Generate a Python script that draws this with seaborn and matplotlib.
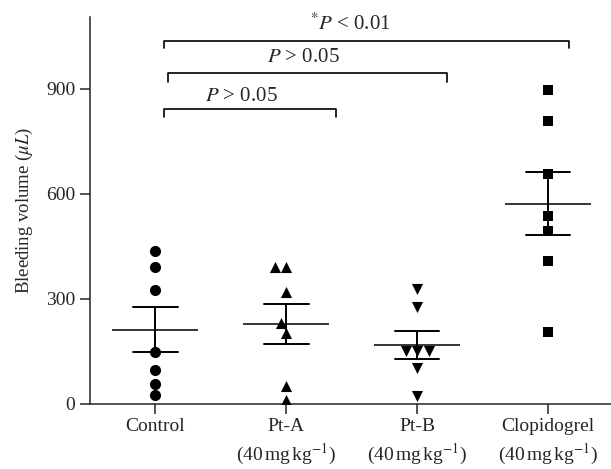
import pandas as pd
import matplotlib
matplotlib.use("Agg")
import matplotlib.pyplot as plt
import seaborn as sns

# bleeding volume per animal (uL)
control = [438, 390, 325, 148, 98, 58, 26]
pt_a = [390, 390, 321, 232, 203, 50, 10]
pt_b = [328, 278, 150, 150, 150, 101, 21]
clopidogrel = [897, 808, 656, 536, 495, 407, 204]

groups = ["Control", "Pt-A", "Pt-B", "Clopidogrel"]
tick_labels = ["Control",
               "Pt-A\n(40$\\,$mg$\\,$kg$^{-1}$)",
               "Pt-B\n(40$\\,$mg$\\,$kg$^{-1}$)",
               "Clopidogrel\n(40$\\,$mg$\\,$kg$^{-1}$)"]
markers = ["o", "^", "v", "s"]

df = pd.DataFrame({
    "group": sum([[g] * 7 for g in groups], []),
    "volume": control + pt_a + pt_b + clopidogrel,
})

sns.set_style("ticks")
plt.rcParams["font.family"] = ["Liberation Serif", "DejaVu Serif"]
plt.rcParams["mathtext.fontset"] = "stix"

fig = plt.figure(figsize=(6.11, 4.69), dpi=100)
ax = fig.add_axes([0.147, 0.139, 0.853, 0.825])

for g, m in zip(groups, markers):
    sub = df[df["group"] == g]
    sns.swarmplot(data=sub, x="group", y="volume", order=groups, marker=m,
                  color="black", size=8 if m != "s" else 7.5, ax=ax)

sns.pointplot(data=df, x="group", y="volume", order=groups, errorbar="se",
              capsize=0.34, color="black", marker="_", markersize=62,
              markeredgewidth=1.1, linestyle="none",
              err_kws={"linewidth": 1.4}, ax=ax)

ax.set_xlim(-0.5, 3.48)
ax.set_ylim(0, 1106)
ax.set_yticks([0, 300, 600, 900])
ax.set_xticks(range(4))
ax.set_xticklabels(tick_labels, linespacing=1.35)
ax.set_xlabel("")
ax.set_ylabel("Bleeding volume ($\\mathit{\\mu L}$)", fontsize=13.5, labelpad=8)
ax.tick_params(axis="both", labelsize=14, length=7, width=1.1, direction="out")
sns.despine(ax=ax)
for s in ["left", "bottom"]:
    ax.spines[s].set_linewidth(1.1)

# significance brackets
brackets = [
    (0.065, 3.16, 1038, 1017, 1.49, 1085, "$^{*}\\mathit{P}$ < 0.01"),
    (0.10, 2.23, 946, 920, 1.13, 991, "$\\mathit{P}$ > 0.05"),
    (0.065, 1.38, 843, 820, 0.66, 879, "$\\mathit{P}$ > 0.05"),
]
for x0, x1, yl, yd, tx, ty, txt in brackets:
    ax.plot([x0, x0, x1, x1], [yd, yl, yl, yd], color="black", lw=1.2,
            clip_on=False)
    ax.text(tx, ty, txt, ha="center", va="center", fontsize=15)

fig.savefig("out.png", dpi=100)
